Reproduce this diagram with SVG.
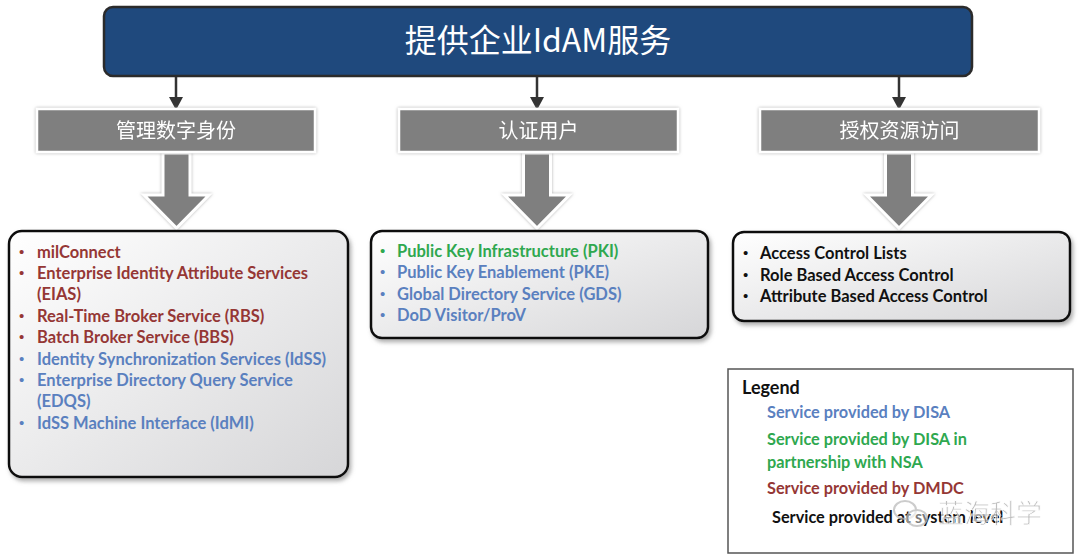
<svg xmlns="http://www.w3.org/2000/svg" width="1080" height="559" viewBox="0 0 1080 559">
<defs>
<linearGradient id="boxGrad" x1="0" y1="0" x2="1" y2="1">
<stop offset="0" stop-color="#ffffff"/>
<stop offset="1" stop-color="#d6d6d8"/>
</linearGradient>
<filter id="shadow" x="-10%" y="-10%" width="120%" height="130%">
<feDropShadow dx="2" dy="3" stdDeviation="2" flood-color="#777" flood-opacity="0.6"/>
</filter>
<filter id="glow" x="-10%" y="-20%" width="120%" height="140%">
<feDropShadow dx="0" dy="0" stdDeviation="1.5" flood-color="#999" flood-opacity="0.8"/>
</filter>
</defs>
<style>
.cjk{font-family:"Noto Sans CJK SC","Noto Sans",sans-serif;}
.hdr{fill:#7f7f7f;stroke:#ffffff;stroke-width:2.5;}
.hdrt{font-size:20px;fill:#ffffff;text-anchor:middle;}
.list{fill:url(#boxGrad);stroke:#111;stroke-width:2.5;}
.it{font-family:Lato,"Liberation Sans",sans-serif;font-weight:bold;font-size:16.5px;}
.bul{font-family:"Liberation Sans",sans-serif;font-size:15px;font-weight:normal;}
.red{fill:#953735;}
.blue{fill:#5a80bf;}
.green{fill:#2fa84f;}
.blk{fill:#111;}
.big{fill:#7f7f7f;stroke:#ffffff;stroke-width:3;stroke-linejoin:miter;}
.sm{stroke:#333;stroke-width:2.5;fill:none;}
.smh{fill:#333;}
.lg{font-family:Lato,"Liberation Sans",sans-serif;font-weight:bold;font-size:16.3px;}
</style>
<rect width="1080" height="559" fill="#ffffff"/>

<g id="top">
<rect x="104" y="7" width="868" height="69" rx="9" fill="#1f497d" stroke="#2b2b2b" stroke-width="2.5"/>
<text x="538" y="52" class="cjk" font-size="32" fill="#ffffff" text-anchor="middle">提供企业IdAM服务</text>
</g>

<g id="connectors">
<line class="sm" x1="176" y1="77" x2="176" y2="99"/>
<polygon class="smh" points="169,97 183,97 176,110"/>
<line class="sm" x1="537" y1="77" x2="537" y2="99"/>
<polygon class="smh" points="530,97 544,97 537,110"/>
<line class="sm" x1="899" y1="77" x2="899" y2="99"/>
<polygon class="smh" points="892,97 906,97 899,110"/>
<g filter="url(#glow)">
<path class="big" d="M163,153 L190,153 L190,195 L209,195 L176.5,228 L144,195 L163,195 Z"/>
<path class="big" d="M523.5,153 L550.5,153 L550.5,195 L569.5,195 L537,228 L504.5,195 L523.5,195 Z"/>
<path class="big" d="M885.5,153 L912.5,153 L912.5,195 L931.5,195 L899,228 L866.5,195 L885.5,195 Z"/>
</g>
</g>

<g id="h1" filter="url(#glow)">
<rect class="hdr" x="37" y="109" width="278" height="43"/>
<text class="cjk hdrt" x="176" y="138">管理数字身份</text>
</g>
<g id="h2" filter="url(#glow)">
<rect class="hdr" x="399" y="109" width="279" height="43"/>
<text class="cjk hdrt" x="538.5" y="138">认证用户</text>
</g>
<g id="h3" filter="url(#glow)">
<rect class="hdr" x="760" y="109" width="279" height="43"/>
<text class="cjk hdrt" x="899.5" y="138">授权资源访问</text>
</g>

<g id="list1">
<rect class="list" x="9" y="231" width="339" height="246" rx="13" filter="url(#shadow)"/>
<g class="it">
<text class="red bul" x="19" y="257">•</text><text class="red" x="37" y="258">milConnect</text>
<text class="red bul" x="19" y="278">•</text><text class="red" x="37" y="279">Enterprise Identity Attribute Services</text>
<text class="red" x="37" y="300">(EIAS)</text>
<text class="red bul" x="19" y="321">•</text><text class="red" x="37" y="322">Real-Time Broker Service (RBS)</text>
<text class="red bul" x="19" y="342">•</text><text class="red" x="37" y="343">Batch Broker Service (BBS)</text>
<text class="blue bul" x="19" y="364">•</text><text class="blue" x="37" y="365">Identity Synchronization Services (IdSS)</text>
<text class="blue bul" x="19" y="385">•</text><text class="blue" x="37" y="386">Enterprise Directory Query Service</text>
<text class="blue" x="37" y="407">(EDQS)</text>
<text class="blue bul" x="19" y="428">•</text><text class="blue" x="37" y="429">IdSS Machine Interface (IdMI)</text>
</g>
</g>

<g id="list2">
<rect class="list" x="371" y="231" width="337" height="107" rx="11" filter="url(#shadow)"/>
<g class="it">
<text class="green bul" x="380" y="256">•</text><text class="green" x="397" y="257">Public Key Infrastructure (PKI)</text>
<text class="blue bul" x="380" y="277">•</text><text class="blue" x="397" y="278">Public Key Enablement  (PKE)</text>
<text class="blue bul" x="380" y="299">•</text><text class="blue" x="397" y="300">Global Directory Service (GDS)</text>
<text class="blue bul" x="380" y="320">•</text><text class="blue" x="397" y="321">DoD Visitor/ProV</text>
</g>
</g>

<g id="list3">
<rect class="list" x="733" y="232" width="337" height="89" rx="11" filter="url(#shadow)"/>
<g class="it">
<text class="blk bul" x="743" y="258">•</text><text class="blk" x="760" y="259">Access Control Lists</text>
<text class="blk bul" x="743" y="280">•</text><text class="blk" x="760" y="281">Role Based Access Control</text>
<text class="blk bul" x="743" y="301">•</text><text class="blk" x="760" y="302">Attribute Based Access Control</text>
</g>
</g>

<g id="legend">
<rect x="728" y="369" width="345" height="184" fill="#ffffff" stroke="#555" stroke-width="1.5"/>
<text x="742" y="394" font-family="Lato,'Liberation Sans',sans-serif" font-size="18" font-weight="bold" fill="#111">Legend</text>
<text class="lg blue" x="767" y="418">Service provided by DISA</text>
<text class="lg green" x="767" y="445">Service provided by DISA in</text>
<text class="lg green" x="767" y="468">partnership with NSA</text>
<text class="lg red" x="767" y="494">Service provided by DMDC</text>
<text class="lg blk" x="772" y="523">Service provided at system level</text>
</g>

<g id="watermark" opacity="0.75">
<ellipse cx="905" cy="510" rx="11" ry="9" fill="none" stroke="#bbb" stroke-width="2"/>
<ellipse cx="917" cy="518" rx="10" ry="8" fill="#fff" fill-opacity="0.6" stroke="#bbb" stroke-width="2"/>
<text x="938" y="523" class="cjk" font-size="26" fill="#aaa" stroke="#fff" stroke-width="0.8">蓝海科学</text>
</g>
</svg>
